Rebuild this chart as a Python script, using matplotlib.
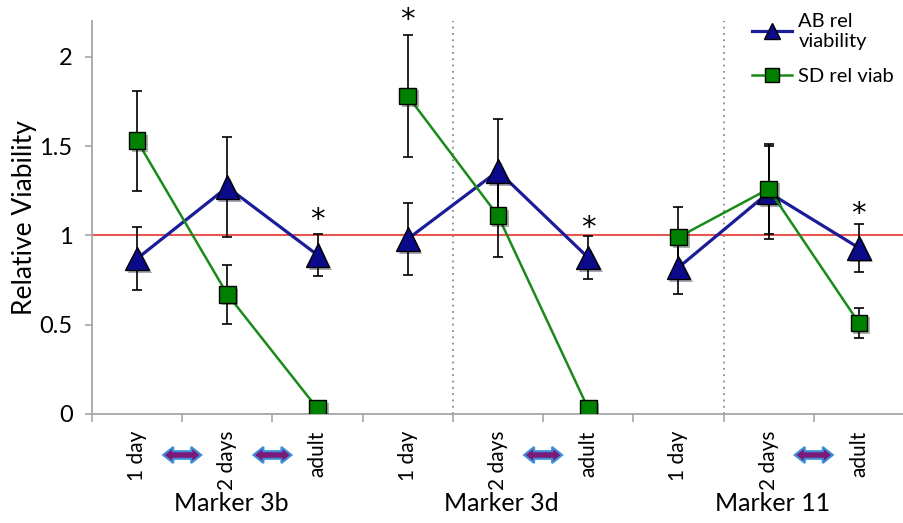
import numpy as np
import matplotlib
matplotlib.use("Agg")
import matplotlib.pyplot as plt
import matplotlib.patheffects as pe
from matplotlib.lines import Line2D
from matplotlib.patches import Polygon
from matplotlib.transforms import ScaledTranslation, offset_copy

plt.rcParams["font.family"] = ["Lato", "DejaVu Sans"]

# values
ages = ["1 day", "2 days", "adult"]
groups = ["Marker 3b", "Marker 3d", "Marker 11"]
ab_vals = [0.87, 1.27, 0.89, 0.98, 1.36, 0.875, 0.82, 1.24, 0.93]
ab_err = [0.175, 0.28, 0.12, 0.20, 0.29, 0.12, 0.15, 0.26, 0.135]
sd_vals = [1.53, 0.67, 0.03, 1.78, 1.11, 0.03, 0.99, 1.26, 0.51]
sd_err = [0.28, 0.165, 0.0, 0.34, 0.23, 0.0, 0.17, 0.25, 0.085]
star_idx = [2, 3, 5, 8]
star_y = [1.12, 2.24, 1.075, 1.155]
arrow_at = [0.5, 1.5, 4.5, 7.5]   # "between" arrows under the axis
ref_level = 1.0

BLUE_LINE = "#1c1c99"
BLUE_FILL = "#0a0a8a"
GREEN_LINE = "#1a8a1a"
GREEN_FILL = "#008000"
GRAY = "#a6a6a6"

fig = plt.figure(figsize=(9.04, 5.23), dpi=100)
ax = fig.add_axes([92 / 904, 109 / 523, 812 / 904, 393 / 523])

n = len(ab_vals)
x = np.arange(n)

ax.axhline(ref_level, color="#e8574f", lw=1.5, zorder=1)
for sep in (3.5, 6.5):
    ax.axvline(sep, color="#8a8a8a", lw=1.3, ls=(0, (1, 2.5)), zorder=0.5)

# error bars below everything
ax.errorbar(x, ab_vals, yerr=ab_err, fmt="none", ecolor="black", elinewidth=1.2,
            capsize=3.5, capthick=1.2, zorder=2)
ax.errorbar(x, sd_vals, yerr=sd_err, fmt="none", ecolor="black", elinewidth=1.2,
            capsize=3.5, capthick=1.2, zorder=2)

shadow = [pe.SimplePatchShadow(offset=(2, -2), alpha=0.35), pe.Normal()]
for g in range(len(groups)):
    sl = slice(3 * g, 3 * g + 3)
    ax.plot(x[sl], ab_vals[sl], color=BLUE_LINE, lw=2.3, zorder=3)
    ax.plot(x[sl], ab_vals[sl], ls="none", marker="^", ms=17, mfc=BLUE_FILL,
            mec="black", mew=1.0, zorder=3.5, path_effects=shadow)
for g in range(len(groups)):
    sl = slice(3 * g, 3 * g + 3)
    ax.plot(x[sl], sd_vals[sl], color=GREEN_LINE, lw=1.8, zorder=4)
    ax.plot(x[sl], sd_vals[sl], ls="none", marker="s", ms=12, mfc=GREEN_FILL,
            mec="black", mew=1.0, zorder=4.5, path_effects=shadow)

star_tr = offset_copy(ax.transData, fig=fig, x=0, y=-6, units="dots")
for i, yv in zip(star_idx, star_y):
    ax.text(x[i], yv, "*", ha="center", va="center", fontsize=21,
            color="black", clip_on=False, family="DejaVu Sans", transform=star_tr)

ax.set_xlim(-0.5, n - 0.5)
ax.set_ylim(0, 2.2)
ax.set_yticks([0, 0.5, 1, 1.5, 2])
ax.set_yticklabels(["0", "0.5", "1", "1.5", "2"])
ax.set_xticks(np.arange(-0.5, n, 1.0))
ax.set_xticklabels([])
ax.set_xticks(x, minor=True)
ax.set_xticklabels(ages * len(groups), minor=True, rotation=90, fontsize=15)
ax.tick_params(axis="x", which="major", length=6, color=GRAY, width=1.2)
ax.tick_params(axis="x", which="minor", length=0, pad=12)
ax.tick_params(axis="y", length=5, color=GRAY, width=1.2, labelsize=17, pad=9)
for s in ("top", "right"):
    ax.spines[s].set_visible(False)
for s in ("left", "bottom"):
    ax.spines[s].set_color(GRAY)
    ax.spines[s].set_linewidth(1.3)
ax.set_ylabel("Relative Viability", fontsize=19, labelpad=2)

# group labels
for g, name in enumerate(groups):
    ax.text(3 * g + 1.04, -0.228, name, transform=ax.get_xaxis_transform(),
            ha="center", va="center", fontsize=18)

# double-headed block arrows between tick labels (shape in inches)
hw, hl, bh, hh = 0.19, 0.10, 0.038, 0.08
arrow_shape = [(-hw, 0), (-hw + hl, hh), (-hw + hl, bh), (hw - hl, bh), (hw - hl, hh),
               (hw, 0), (hw - hl, -hh), (hw - hl, -bh), (-hw + hl, -bh), (-hw + hl, -hh)]
for xa in arrow_at:
    tr = fig.dpi_scale_trans + ScaledTranslation(xa, 0, ax.get_xaxis_transform())
    pts = [(px, py - 0.41) for px, py in arrow_shape]
    ax.add_patch(Polygon(pts, closed=True, transform=tr, facecolor="#7b1a7b",
                         edgecolor="#3d8fd6", lw=1.5, clip_on=False))

handles = [
    Line2D([], [], color=BLUE_LINE, lw=2.3, marker="^", ms=12, mfc=BLUE_FILL, mec="black"),
    Line2D([], [], color=GREEN_LINE, lw=1.8, marker="s", ms=10, mfc=GREEN_FILL, mec="black"),
]
fig.legend(handles, ["AB rel\nviability", "SD rel viab"], loc="upper left",
           bbox_to_anchor=(734 / 904, 1.01), frameon=False, fontsize=14.5,
           handlelength=2.0, handletextpad=0.3, labelspacing=0.9)

fig.savefig("out.png", dpi=100)
